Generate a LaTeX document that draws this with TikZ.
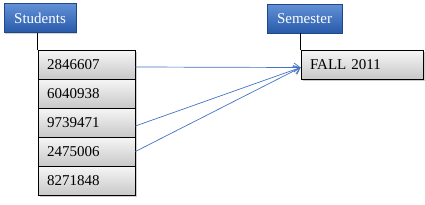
\documentclass[tikz,border=0pt]{standalone}
\usepackage{fontspec}
\setmainfont{Liberation Serif}
\usetikzlibrary{arrows.meta,shadows}
\definecolor{hdtop}{RGB}{98,145,214}
\definecolor{hdbot}{RGB}{40,90,170}
\definecolor{cltop}{RGB}{246,246,246}
\definecolor{clbot}{RGB}{200,200,200}
\definecolor{arr}{RGB}{70,115,195}
\tikzset{
  header/.style={draw=hdbot!80!black, line width=0.4pt, top color=hdtop, bottom color=hdbot,
    text=white, minimum width=72pt, minimum height=29pt, inner sep=0pt,
    font=\fontsize{15}{17}\selectfont,
    drop shadow={shadow xshift=1.2pt, shadow yshift=-1.2pt, opacity=0.35}},
  cell/.style={draw=black, line width=0.8pt, top color=cltop, bottom color=clbot,
    minimum height=29pt, inner xsep=9pt, inner ysep=0pt, align=left,
    font=\fontsize{15}{17}\selectfont,
    drop shadow={shadow xshift=1.5pt, shadow yshift=-1.5pt, opacity=0.4}},
  stem/.style={line width=1.6pt, black},
  link/.style={arr, line width=0.7pt, -{Straight Barb[length=6pt,width=9pt]}}
}
\begin{document}
\begin{tikzpicture}[x=1pt,y=-1pt]
\useasboundingbox[fill=white] (0,0) rectangle (425,204);
\node[header] (stu) at (40,18) {Students};
\node[header, minimum width=75pt] (sem) at (304.5,18.5) {Semester};
\node[cell, text width=79pt] (c1) at (86.5,64.5) {2846607};
\node[cell, text width=79pt] (c2) at (86.5,93.5) {6040938};
\node[cell, text width=79pt] (c3) at (86.5,122.5) {9739471};
\node[cell, text width=79pt] (c4) at (86.5,151.5) {2475006};
\node[cell, text width=79pt] (c5) at (86.5,180.5) {8271848};
\node[cell, text width=104pt] (f) at (362,64.5) {FALL 2011};
\draw[stem] (stu.south -| c1.north west) -- (c1.north west);
\draw[stem] (sem.south -| f.north west) -- (f.north west);
\coordinate (tgt) at ([yshift=-3pt]f.west);
\draw[link] ([yshift=-2.5pt]c1.east) -- (tgt);
\draw[link] ([yshift=-3.5pt]c3.east) -- (tgt);
\draw[link] (c4.east) -- (tgt);
\end{tikzpicture}
\end{document}
